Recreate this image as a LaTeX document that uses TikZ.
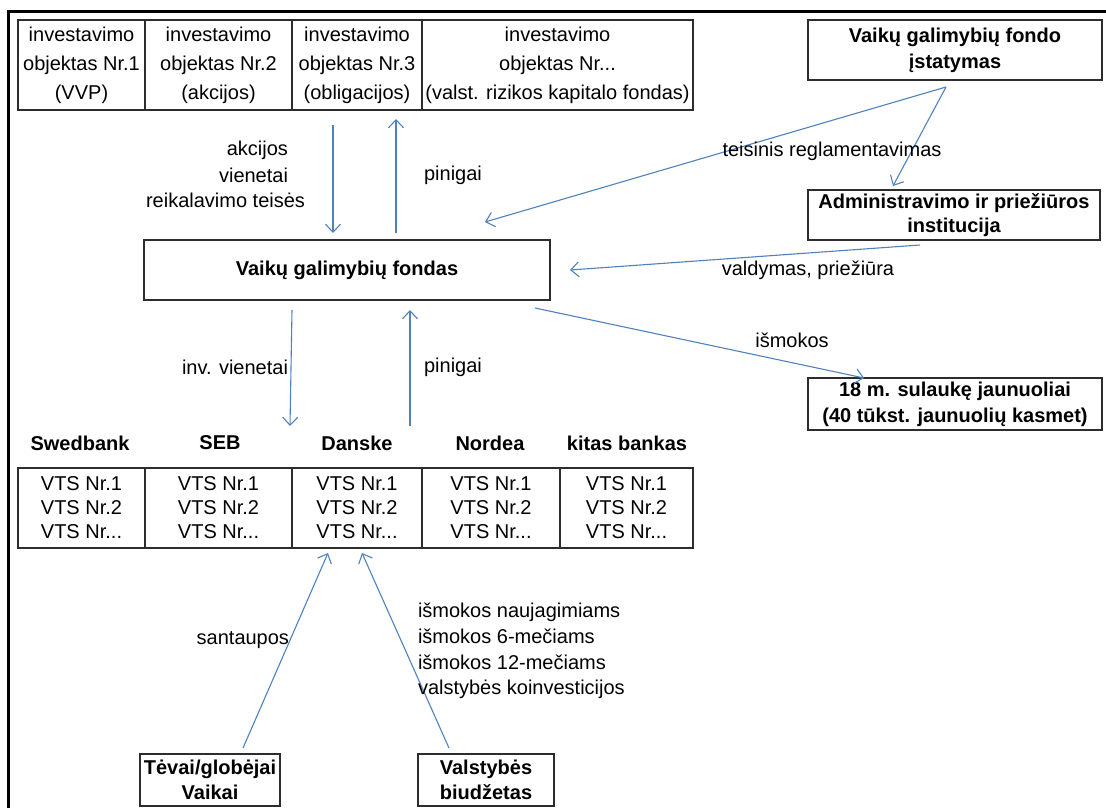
\documentclass[tikz,border=0pt]{standalone}
\usepackage{fontspec}
\setmainfont{Liberation Sans}
\usetikzlibrary{arrows.meta}
\definecolor{arr}{RGB}{79,129,189}
\definecolor{bx}{RGB}{45,45,45}
\begin{document}
\begin{tikzpicture}[x=1pt,y=-1pt,
  every node/.style={inner sep=0pt, outer sep=0pt, font=\fontsize{20}{25}\selectfont},
  cell/.style={draw=bx, line width=1.3pt, align=center},
  bbox/.style={draw=bx, line width=1.3pt, align=center, font=\fontsize{20}{25}\selectfont\bfseries},
  bank/.style={font=\fontsize{20}{25}\selectfont\bfseries},
  flow/.style={draw=arr, line width=1.1pt, -{Straight Barb[length=8pt,width=15pt,line width=1.1pt]}},
  lbl/.style={text=black}]
\useasboundingbox (0,0) rectangle (1106,808);
% frame
\draw[line width=3pt] (8,808) -- (8,12) -- (1106,12);

% top table
\node[cell, minimum width=127pt, minimum height=90pt, font=\fontsize{20}{29}\selectfont] (o1) at (81.5,65) {investavimo\\objektas Nr.1\\(VVP)};
\node[cell, minimum width=147pt, minimum height=90pt, font=\fontsize{20}{29}\selectfont] (o2) at (218.5,65) {investavimo\\objektas Nr.2\\(akcijos)};
\node[cell, minimum width=130pt, minimum height=90pt, font=\fontsize{20}{29}\selectfont] (o3) at (357,65) {investavimo\\objektas Nr.3\\(obligacijos)};
\node[cell, minimum width=271pt, minimum height=90pt, font=\fontsize{20}{29}\selectfont] (o4) at (557.5,65) {investavimo\\objektas Nr...\\(valst. rizikos kapitalo fondas)};

% right boxes
\node[bbox, minimum width=294pt, minimum height=60pt, font=\fontsize{20}{26}\selectfont\bfseries] (law) at (955,50) {Vaikų galimybių fondo\\įstatymas};
\node[bbox, minimum width=292pt, minimum height=50pt, font=\fontsize{20}{24}\selectfont\bfseries] (adm) at (954,215) {Administravimo ir priežiūros\\institucija};
\node[bbox, minimum width=406pt, minimum height=60pt] (fund) at (347,270) {Vaikų galimybių fondas};
\node[bbox, minimum width=294pt, minimum height=52pt, font=\fontsize{20}{26}\selectfont\bfseries] (youth) at (955,404) {18 m. sulaukę jaunuoliai\\(40 tūkst. jaunuolių kasmet)};

% bank headers
\node[bank] (hb1) at (80,443) {Swedbank};
\node[bank] (hb2) at (220,443) {SEB};
\node[bank] (hb3) at (357,443) {Danske};
\node[bank] (hb4) at (490,443) {Nordea};
\node[bank] (hb5) at (627,443) {kitas bankas};

% VTS table
\node[cell, minimum width=127pt, minimum height=80pt, font=\fontsize{20}{24}\selectfont] (v1) at (81.5,508) {VTS Nr.1\\VTS Nr.2\\VTS Nr...};
\node[cell, minimum width=147pt, minimum height=80pt, font=\fontsize{20}{24}\selectfont] (v2) at (218.5,508) {VTS Nr.1\\VTS Nr.2\\VTS Nr...};
\node[cell, minimum width=130pt, minimum height=80pt, font=\fontsize{20}{24}\selectfont] (v3) at (357,508) {VTS Nr.1\\VTS Nr.2\\VTS Nr...};
\node[cell, minimum width=138pt, minimum height=80pt, font=\fontsize{20}{24}\selectfont] (v4) at (491,508) {VTS Nr.1\\VTS Nr.2\\VTS Nr...};
\node[cell, minimum width=133pt, minimum height=80pt, font=\fontsize{20}{24}\selectfont] (v5) at (626.5,508) {VTS Nr.1\\VTS Nr.2\\VTS Nr...};

% bottom boxes
\node[bbox, minimum width=140pt, minimum height=52pt, font=\fontsize{20}{25}\selectfont\bfseries] (par) at (210,780) {Tėvai/globėjai\\Vaikai};
\node[bbox, minimum width=136pt, minimum height=52pt, font=\fontsize{20}{25}\selectfont\bfseries] (bud) at (486,780) {Valstybės\\biudžetas};

% connector end points
\coordinate (c1a) at (333,125); \coordinate (c1b) at (333,233);
\coordinate (c2a) at (396,233); \coordinate (c2b) at (396,119);
\coordinate (c3a) at (946,87);  \coordinate (c3b) at (485,222);
\coordinate (c4b) at (893,186);
\coordinate (c5a) at (920,245); \coordinate (c5b) at (570,270);
\coordinate (c6a) at (535,308); \coordinate (c6b) at (864,378);
\coordinate (c7a) at (292,310); \coordinate (c7b) at (290,426);
\coordinate (c8a) at (410,426); \coordinate (c8b) at (410,310);
\coordinate (c9a) at (243,748); \coordinate (c9b) at (328,553);
\coordinate (c10a) at (449,748); \coordinate (c10b) at (362,553);

\draw[flow] (c1a) -- (c1b);
\draw[flow] (c2a) -- (c2b);
\draw[flow] (c3a) -- (c3b);
\draw[flow] (c3a) -- (c4b);
\draw[flow] (c5a) -- (c5b);
\draw[flow] (c6a) -- (c6b);
\draw[flow] (c7a) -- (c7b);
\draw[flow] (c8a) -- (c8b);
\draw[flow] (c9a) -- (c9b);
\draw[flow] (c10a) -- (c10b);

% labels
\node[lbl, anchor=east] (l1a) at (288,150) {akcijos};
\node[lbl, anchor=east] (l1b) at (288,175) {vienetai};
\node[lbl, anchor=east] (l1c) at (305,200) {reikalavimo teisės};
\node[lbl] (l2) at (453,175) {pinigai};
\node[lbl] (l3) at (832,151) {teisinis reglamentavimas};
\node[lbl] (l5) at (808,270) {valdymas, priežiūra};
\node[lbl] (l6) at (792,340) {išmokos};
\node[lbl, anchor=east] (l7) at (288,367) {inv. vienetai};
\node[lbl] (l8) at (453,367) {pinigai};
\node[lbl, anchor=east] (l9) at (289,640) {santaupos};
\node[lbl, anchor=west, align=left, font=\fontsize{20}{25.7}\selectfont] (l10) at (418,651) {išmokos naujagimiams\\išmokos 6-mečiams\\išmokos 12-mečiams\\valstybės koinvesticijos};
\end{tikzpicture}
\end{document}
